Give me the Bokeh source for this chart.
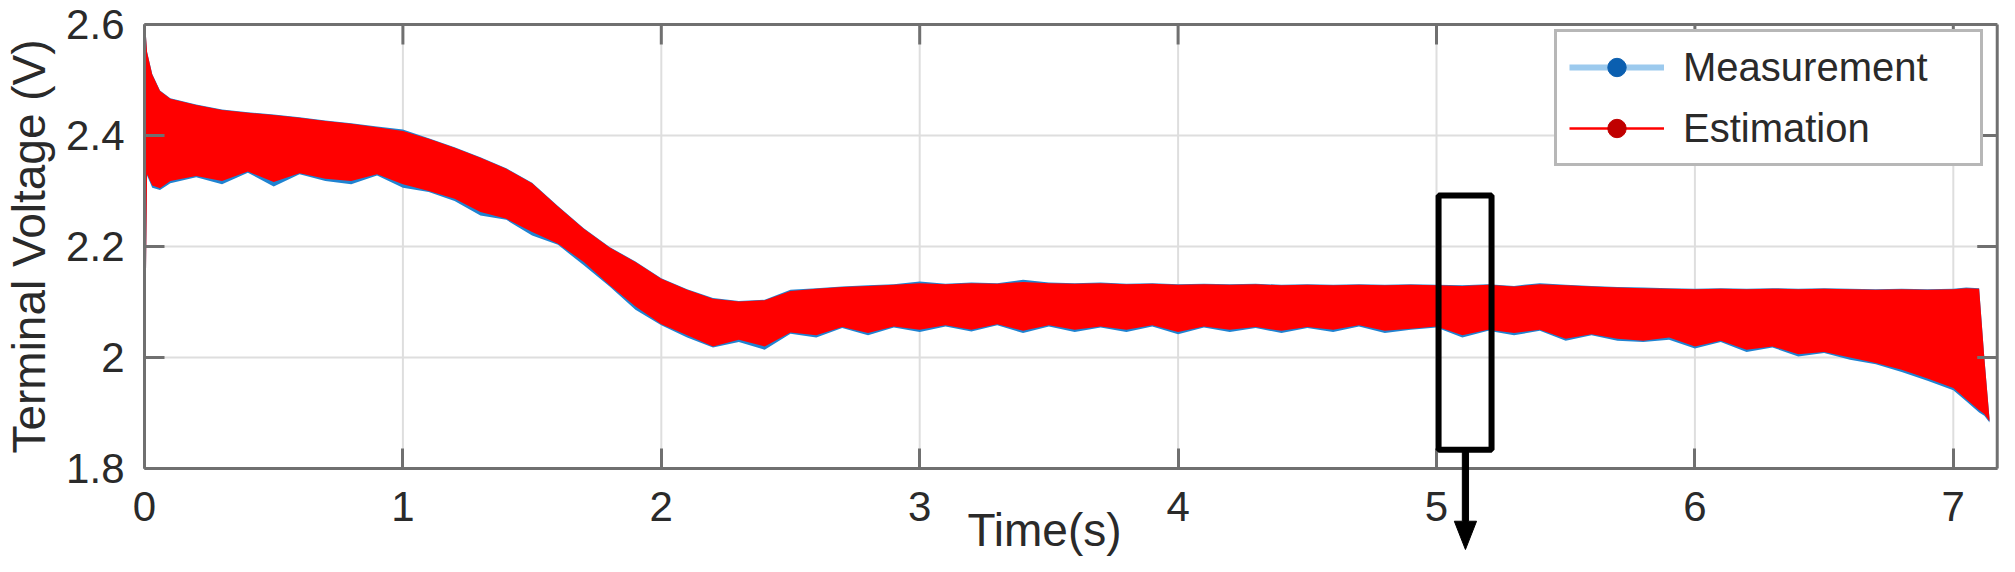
import math
from bokeh.plotting import figure
from bokeh.models import (Range1d, FixedTicker, CustomJSTickFormatter, Legend, LegendItem,
                          BoxAnnotation, PolyAnnotation, Label, ColumnDataSource)
from bokeh.embed import file_html
from bokeh.resources import INLINE

# ---------------- data ----------------
time = [0.0, 0.004, 0.01, 0.03, 0.06, 0.1, 0.2, 0.3, 0.4, 0.5, 0.6, 0.7, 0.8, 0.9, 1.0,
        1.1, 1.2, 1.3, 1.4, 1.5, 1.6, 1.7, 1.8, 1.9, 2.0, 2.1, 2.2, 2.3, 2.4, 2.5, 2.6, 2.7,
        2.8, 2.9, 3.0, 3.1, 3.2, 3.3, 3.4, 3.5, 3.6, 3.7, 3.8, 3.9, 4.0, 4.1, 4.2, 4.3, 4.4,
        4.5, 4.6, 4.7, 4.8, 4.9, 5.0, 5.1, 5.2, 5.3, 5.4, 5.5, 5.6, 5.7, 5.8, 5.9, 6.0, 6.1,
        6.2, 6.3, 6.4, 6.5, 6.6, 6.7, 6.8, 6.9, 7.0, 7.05, 7.1, 7.12, 7.14]

estimation_upper = [2.600, 2.590, 2.550, 2.510, 2.480, 2.466, 2.455, 2.446, 2.441, 2.437,
                    2.432, 2.426, 2.421, 2.415, 2.408, 2.394, 2.378, 2.360, 2.340, 2.314,
                    2.272, 2.232, 2.198, 2.172, 2.142, 2.122, 2.106, 2.101, 2.103, 2.120,
                    2.124, 2.127, 2.129, 2.131, 2.134, 2.132, 2.134, 2.133, 2.136, 2.134,
                    2.133, 2.134, 2.132, 2.133, 2.131, 2.132, 2.131, 2.132, 2.130, 2.131,
                    2.130, 2.131, 2.130, 2.131, 2.130, 2.129, 2.131, 2.128, 2.132, 2.130,
                    2.128, 2.126, 2.125, 2.124, 2.123, 2.124, 2.123, 2.124, 2.123, 2.124,
                    2.123, 2.122, 2.123, 2.122, 2.123, 2.125, 2.124, 2.000, 1.890]

estimation_lower = [2.080, 2.080, 2.330, 2.310, 2.305, 2.318, 2.327, 2.318, 2.335, 2.316,
                    2.332, 2.322, 2.318, 2.330, 2.312, 2.300, 2.286, 2.262, 2.250, 2.226,
                    2.205, 2.172, 2.130, 2.092, 2.060, 2.040, 2.020, 2.032, 2.020, 2.045,
                    2.040, 2.055, 2.044, 2.056, 2.050, 2.058, 2.050, 2.060, 2.048, 2.058,
                    2.050, 2.056, 2.050, 2.058, 2.046, 2.056, 2.050, 2.055, 2.048, 2.055,
                    2.050, 2.058, 2.048, 2.052, 2.056, 2.040, 2.050, 2.044, 2.050, 2.034,
                    2.042, 2.034, 2.030, 2.036, 2.020, 2.030, 2.014, 2.020, 2.006, 2.010,
                    2.000, 1.990, 1.978, 1.962, 1.945, 1.925, 1.905, 1.898, 1.885]

measurement_upper = [2.600, 2.591, 2.551, 2.511, 2.481, 2.467, 2.456, 2.447, 2.442, 2.438,
                     2.433, 2.427, 2.422, 2.416, 2.411, 2.395, 2.379, 2.361, 2.341, 2.315,
                     2.273, 2.233, 2.199, 2.173, 2.143, 2.123, 2.107, 2.102, 2.104, 2.122,
                     2.125, 2.128, 2.130, 2.132, 2.137, 2.133, 2.135, 2.134, 2.140, 2.135,
                     2.134, 2.135, 2.133, 2.134, 2.132, 2.133, 2.132, 2.133, 2.131, 2.132,
                     2.131, 2.132, 2.131, 2.132, 2.131, 2.130, 2.132, 2.129, 2.134, 2.131,
                     2.129, 2.127, 2.126, 2.125, 2.124, 2.125, 2.124, 2.125, 2.124, 2.125,
                     2.124, 2.123, 2.124, 2.123, 2.124, 2.126, 2.125, 2.001, 1.891]

measurement_lower = [2.080, 2.080, 2.328, 2.306, 2.302, 2.314, 2.325, 2.312, 2.333, 2.308,
                     2.330, 2.318, 2.312, 2.328, 2.306, 2.298, 2.282, 2.256, 2.248, 2.220,
                     2.203, 2.166, 2.128, 2.086, 2.058, 2.036, 2.018, 2.028, 2.014, 2.043,
                     2.036, 2.053, 2.040, 2.054, 2.046, 2.056, 2.047, 2.058, 2.044, 2.056,
                     2.046, 2.054, 2.046, 2.056, 2.042, 2.054, 2.046, 2.053, 2.044, 2.053,
                     2.046, 2.056, 2.044, 2.050, 2.054, 2.036, 2.048, 2.040, 2.048, 2.030,
                     2.040, 2.030, 2.028, 2.032, 2.016, 2.028, 2.010, 2.018, 2.002, 2.008,
                     1.996, 1.988, 1.974, 1.958, 1.941, 1.921, 1.901, 1.895, 1.883]

x_ticks = [0, 1, 2, 3, 4, 5, 6, 7]
y_ticks = [1.8, 2.0, 2.2, 2.4, 2.6]
x_limits = (0, 7.17)
y_limits = (1.8, 2.6)
series_labels = ["Measurement", "Estimation"]
x_label = "Time(s)"
y_label = "Terminal Voltage (V)"

# ---------------- styling / geometry ----------------
FONT = "Liberation Sans"
AXIS_COLOR = "#707070"
GRID_COLOR = "#dedede"
TEXT_COLOR = "#2a2a2a"
BLUE = "#1f83d1"
RED = "#ff0000"
TICK_LEN = 20                 # px, inward ticks
FIG_W, FIG_H = 1999, 556
X0_PX, X_PX_PER_UNIT = 144, 258.4   # where x=0 sits inside the canvas, horizontal scale
Y_TOP_PX, Y_PX_PER_V = 24, 555.0    # where y=2.6 sits inside the canvas, vertical scale

def px_x(px):   # canvas px -> data x
    return x_limits[0] + (px - X0_PX) / X_PX_PER_UNIT

def px_y(px):   # canvas px -> data y
    return y_limits[1] - (px - Y_TOP_PX) / Y_PX_PER_V

# the plotting frame covers the whole canvas; the axes box is drawn inside it
p = figure(width=FIG_W, height=FIG_H, output_backend="svg", toolbar_location=None,
           x_range=Range1d(px_x(0), px_x(FIG_W)), y_range=Range1d(px_y(FIG_H), px_y(0)),
           min_border_left=0, min_border_right=0, min_border_top=0, min_border_bottom=0)
p.background_fill_color = "white"
p.border_fill_color = "white"
p.outline_line_color = None
p.xgrid.visible = False
p.ygrid.visible = False

fmt = CustomJSTickFormatter(code="return (Math.round(tick*10)/10).toString();")

def style_axis(ax, ticks, standoff):
    ax.ticker = FixedTicker(ticks=ticks)
    ax.formatter = fmt
    ax.axis_line_color = AXIS_COLOR
    ax.axis_line_width = 3
    ax.major_tick_line_color = AXIS_COLOR
    ax.major_tick_line_width = 3
    ax.major_tick_in = TICK_LEN
    ax.major_tick_out = 0
    ax.minor_tick_line_color = None
    ax.major_label_text_font = FONT
    ax.major_label_text_font_size = "42px"
    ax.major_label_text_color = TEXT_COLOR
    ax.major_label_standoff = standoff

xax = p.xaxis[0]
style_axis(xax, x_ticks, standoff=23)
xax.fixed_location = y_limits[0]
xax.bounds = x_limits

yax = p.yaxis[0]
style_axis(yax, y_ticks, standoff=20)
yax.fixed_location = x_limits[0]
yax.bounds = y_limits

# grid lines (limited to the axes box)
n_x, n_y = len(x_ticks), len(y_ticks)
p.segment(x0=x_ticks, y0=[y_limits[0]] * n_x, x1=x_ticks, y1=[y_limits[1]] * n_x,
          line_color=GRID_COLOR, line_width=2)
p.segment(x0=[x_limits[0]] * n_y, y0=y_ticks, x1=[x_limits[1]] * n_y, y1=y_ticks,
          line_color=GRID_COLOR, line_width=2)

# data
src = ColumnDataSource(dict(t=time, eu=estimation_upper, el=estimation_lower,
                            mu=measurement_upper, ml=measurement_lower))
p.varea(x="t", y1="ml", y2="mu", source=src, fill_color=BLUE)
p.varea(x="t", y1="el", y2="eu", source=src, fill_color=RED)

# box: top and right edges with inward ticks
p.segment(x0=[x_limits[0]], y0=[y_limits[1]], x1=[x_limits[1]], y1=[y_limits[1]],
          line_color=AXIS_COLOR, line_width=3)
p.segment(x0=[x_limits[1]], y0=[y_limits[0]], x1=[x_limits[1]], y1=[y_limits[1]],
          line_color=AXIS_COLOR, line_width=3)
tick_dy = TICK_LEN / Y_PX_PER_V
tick_dx = TICK_LEN / X_PX_PER_UNIT
p.segment(x0=x_ticks, y0=[y_limits[1]] * n_x, x1=x_ticks, y1=[y_limits[1] - tick_dy] * n_x,
          line_color=AXIS_COLOR, line_width=3)
p.segment(x0=[x_limits[1]] * n_y, y0=y_ticks, x1=[x_limits[1] - tick_dx] * n_y, y1=y_ticks,
          line_color=AXIS_COLOR, line_width=3)

# legend proxies (no visible data)
nan = float("nan")
proxy = ColumnDataSource(dict(x=[nan], y=[nan]))
m_line = p.line("x", "y", source=proxy, line_color="#9ccaee", line_width=6)
m_dot = p.scatter("x", "y", source=proxy, marker="circle", size=4, fill_color="#0b5fb0",
                  line_color="#0b5fb0")
e_line = p.line("x", "y", source=proxy, line_color=RED, line_width=2.5)
e_dot = p.scatter("x", "y", source=proxy, marker="circle", size=4, fill_color="#c00000",
                  line_color="#c00000")
legend = Legend(items=[LegendItem(label=series_labels[0], renderers=[m_line, m_dot]),
                       LegendItem(label=series_labels[1], renderers=[e_line, e_dot])],
                location=(1554, FIG_H - 35 - 131), orientation="vertical",
                label_text_font=FONT, label_text_font_size="40px", label_text_color=TEXT_COLOR,
                glyph_width=95, glyph_height=46, label_height=46, label_width=285,
                label_standoff=19, spacing=15, padding=12, margin=0,
                border_line_color=AXIS_COLOR, border_line_width=3,
                background_fill_color="white", background_fill_alpha=1.0)
p.add_layout(legend)

# highlight box and arrow
p.add_layout(BoxAnnotation(left=5.008, right=5.213, bottom=1.834, top=2.292,
                           fill_alpha=0, line_color="black", line_alpha=1.0, line_width=6))
p.add_layout(PolyAnnotation(xs=[5.100, 5.124, 5.124, 5.155, 5.112, 5.069, 5.100],
                            ys=[1.834, 1.834, 1.705, 1.705, 1.654, 1.705, 1.705],
                            fill_color="black", fill_alpha=1.0, line_color="black",
                            line_alpha=1.0, line_width=1))

# axis titles
p.add_layout(Label(x=3.483, y=px_y(503), text=x_label, text_align="center",
                   text_baseline="top", text_font=FONT, text_font_size="46px",
                   text_color=TEXT_COLOR))
p.add_layout(Label(x=px_x(28), y=(y_limits[0] + y_limits[1]) / 2, text=y_label,
                   angle=math.pi / 2, text_align="center", text_baseline="middle",
                   text_font=FONT, text_font_size="46px", text_color=TEXT_COLOR))

open("out.html", "w").write(file_html(p, INLINE))
